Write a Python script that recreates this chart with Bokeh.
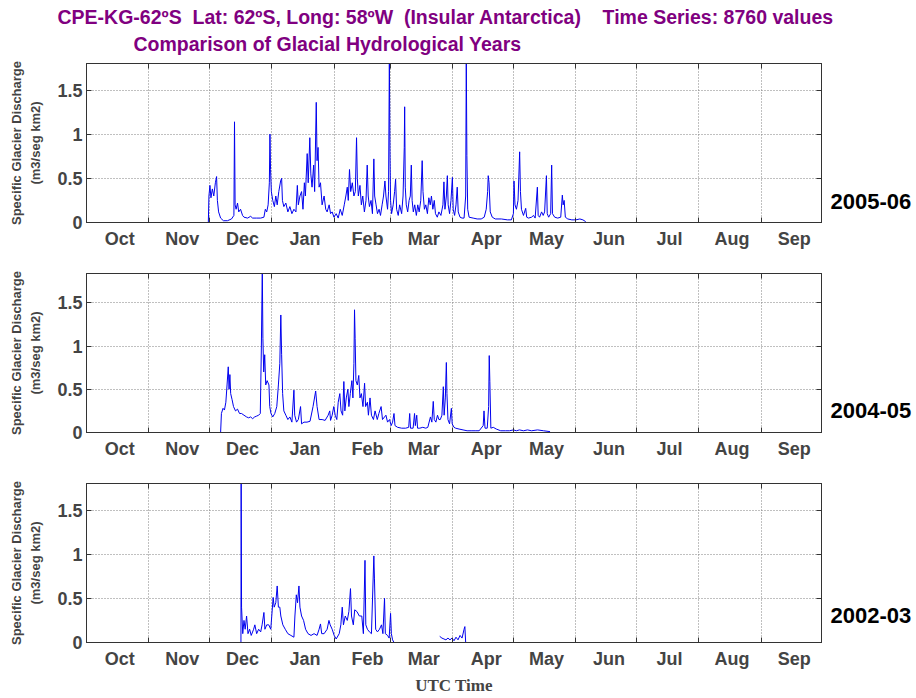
import math
from bokeh.plotting import figure
from bokeh.models import Range1d, FixedTicker, LinearAxis, Title
from bokeh.layouts import column
from bokeh.embed import file_html
from bokeh.resources import INLINE

# ---------------- data ----------------
months = ["Oct", "Nov", "Dec", "Jan", "Feb", "Mar", "Apr", "May", "Jun", "Jul", "Aug", "Sep"]
month_lengths = [31, 30, 31, 31, 28, 31, 30, 31, 30, 31, 31, 30]
y_ticks = [0, 0.5, 1, 1.5]
y_tick_labels = ["0", "0.5", "1", "1.5"]
seasons = ["2005-06", "2004-05", "2002-03"]

# day = days since 1 October of the hydrological year, q = specific discharge (m3/seg km2)
day_0506 = [60.5, 60.8, 61.3, 61.8, 62.5, 63.2, 64.0, 64.6, 65.0, 65.6, 66.6, 68.0, 70.0, 72.0, 73.2, 73.5, 73.8, 74.3,
            75.0, 75.6, 76.5, 77.5, 78.2, 80.0, 81.5, 82.5, 84.5, 86.5, 88.1, 88.8, 89.5, 90.2, 90.8, 91.1, 91.4, 91.8,
            92.5, 93.3, 94.0, 94.7, 95.5, 96.4, 96.9, 97.3, 98.0, 99.0, 100.0, 101.0, 102.0, 103.0, 104.0, 104.7, 105.2,
            106.0, 106.8, 107.5, 108.2, 108.7, 109.6, 110.1, 110.9, 111.4, 112.0, 112.8, 113.3, 114.1, 114.5, 115.0,
            115.5, 116.2, 117.0, 118.0, 118.8, 119.5, 120.5, 121.2, 122.0, 122.9, 124.0, 125.0, 126.0, 127.0, 128.0,
            128.8, 129.5, 130.0, 130.6, 131.2, 132.0, 132.8, 133.5, 134.1, 134.5, 135.0, 135.8, 136.5, 137.2, 138.0,
            138.8, 139.4, 139.9, 140.5, 141.3, 142.0, 142.7, 143.1, 143.8, 144.5, 145.3, 146.0, 146.8, 147.5, 148.2,
            148.7, 149.5, 150.0, 150.4, 150.7, 151.0, 151.5, 152.3, 153.0, 153.5, 154.0, 154.8, 155.5, 156.5, 157.2,
            157.8, 158.0, 158.3, 158.8, 159.5, 160.2, 160.8, 161.3, 161.7, 162.3, 163.0, 163.8, 164.5, 165.2, 166.0,
            166.7, 167.1, 167.8, 168.5, 169.3, 170.0, 170.7, 171.3, 172.0, 172.7, 173.3, 174.2, 175.0, 176.0, 177.0,
            177.5, 178.0, 178.7, 179.2, 179.6, 180.3, 181.0, 181.7, 182.1, 182.8, 183.5, 184.1, 184.6, 185.5, 186.5,
            187.5, 188.3, 188.6, 188.9, 189.3, 190.0, 192.0, 194.0, 196.0, 197.5, 198.5, 199.2, 199.5, 199.9, 200.5,
            201.5, 203.0, 206.0, 209.0, 211.0, 212.0, 212.3, 212.8, 213.5, 214.3, 215.1, 215.5, 216.0, 217.0, 218.1,
            218.6, 219.5, 221.0, 222.0, 222.8, 223.9, 224.3, 225.0, 226.0, 226.8, 227.5, 228.4, 228.8, 229.5, 230.5,
            231.0, 231.4, 232.5, 234.0, 235.5, 236.3, 236.7, 237.2, 237.8, 239.0, 241.0, 243.0, 245.0, 246.5, 247.9]
q_0506 = [0.0, 0.30, 0.42, 0.28, 0.38, 0.30, 0.45, 0.52, 0.25, 0.12, 0.05, 0.02, 0.02, 0.04, 0.08, 1.14, 0.20, 0.15,
          0.22, 0.12, 0.15, 0.08, 0.06, 0.05, 0.07, 0.05, 0.05, 0.05, 0.06, 0.15, 0.12, 0.20, 0.45, 1.00, 0.60, 0.35,
          0.25, 0.18, 0.30, 0.20, 0.35, 0.47, 0.50, 0.25, 0.18, 0.22, 0.12, 0.18, 0.10, 0.15, 0.12, 0.42, 0.20,
          0.30, 0.35, 0.15, 0.45, 0.30, 0.78, 0.45, 0.96, 0.55, 0.40, 0.65, 0.35, 1.36, 0.70, 0.85,
          0.40, 0.45, 0.20, 0.30, 0.15, 0.12, 0.20, 0.10, 0.12, 0.06, 0.10, 0.05, 0.15, 0.08, 0.20,
          0.30, 0.40, 0.25, 0.60, 0.35, 0.45, 0.30, 0.35, 0.96, 0.50, 0.30, 0.42, 0.20, 0.30, 0.12,
          0.25, 0.65, 0.30, 0.18, 0.25, 0.10, 0.72, 0.30, 0.20, 0.10, 0.15, 0.08, 0.20, 0.30, 0.47,
          0.30, 0.15, 0.35, 1.85, 0.80, 0.25, 0.10, 0.20, 0.35, 0.49, 0.15, 0.08, 0.20, 0.10, 0.30,
          0.85, 1.31, 0.40, 0.20, 0.12, 0.25, 0.30, 0.65, 0.25, 0.12, 0.20, 0.08, 0.20, 0.12, 0.25,
          0.70, 0.35, 0.15, 0.20, 0.10, 0.28, 0.20, 0.30, 0.15, 0.25, 0.10, 0.06, 0.12, 0.08, 0.20,
          0.46, 0.15, 0.30, 0.53, 0.20, 0.10, 0.25, 0.51, 0.15, 0.08, 0.20, 0.40, 0.12, 0.06, 0.05,
          0.05, 0.30, 1.85, 0.76, 0.15, 0.06, 0.05, 0.04, 0.04, 0.06, 0.15, 0.35, 0.53, 0.45, 0.12,
          0.06, 0.04, 0.04, 0.03, 0.03, 0.10, 0.47, 0.20, 0.15, 0.25, 0.80, 0.35, 0.15, 0.08, 0.16,
          0.06, 0.05, 0.06, 0.08, 0.05, 0.40, 0.08, 0.06, 0.12, 0.08, 0.12, 0.53, 0.10, 0.06, 0.10,
          0.65, 0.10, 0.06, 0.05, 0.06, 0.31, 0.20, 0.25, 0.06, 0.04, 0.03, 0.03, 0.04, 0.03, 0.01]

day_0405 = [66.6, 67.0, 67.8, 68.5, 69.2, 69.8, 70.4, 70.8, 71.2, 71.6, 72.3, 73.0, 74.0, 75.0, 76.0, 77.0, 78.2, 79.5,
            80.5, 81.5, 82.5, 83.5, 84.5, 85.5, 86.3, 86.8, 87.3, 87.6, 88.0, 88.5, 89.0, 89.7, 90.6, 91.0, 91.6, 92.5,
            93.5, 94.5, 95.3, 96.0, 96.5, 96.9, 97.4, 98.0, 99.0, 100.0, 101.0, 102.0, 103.0, 103.4, 104.3, 105.2,
            106.3, 106.8, 108.0, 109.5, 111.0, 112.5, 113.8, 114.5, 115.5, 117.0, 118.5, 120.0, 120.8, 121.2, 122.0,
            122.8, 123.5, 124.3, 125.0, 125.8, 126.4, 127.2, 127.8, 128.3, 129.0, 129.8, 130.3, 131.0, 131.8, 132.3,
            132.8, 133.1, 133.4, 133.8, 134.5, 135.2, 135.8, 136.5, 137.3, 138.1, 138.6, 139.5, 140.0, 140.8, 141.5,
            142.5, 143.3, 144.4, 145.2, 146.3, 147.0, 148.0, 148.7, 149.5, 150.5, 151.3, 152.0, 152.7, 153.2, 154.5,
            156.5, 158.5, 160.0, 160.5, 160.9, 162.2, 162.9, 163.3, 164.0, 164.4, 165.5, 167.0, 168.5, 169.5, 170.8,
            171.5, 172.2, 172.7, 173.5, 174.3, 175.0, 175.7, 176.5, 177.2, 177.6, 178.2, 178.7, 179.0, 179.5, 180.3,
            181.2, 181.6, 182.5, 183.3, 185.0, 187.0, 189.0, 191.0, 193.0, 195.0, 197.0, 197.4, 197.9, 199.0, 199.7,
            200.0, 200.3, 200.8, 202.0, 203.5, 205.7, 208.0, 210.0, 212.0, 213.5, 215.0, 217.0, 219.0, 221.0, 224.0,
            227.0, 230.2]
q_0405 = [0.0, 0.22, 0.28, 0.26, 0.35, 0.55, 0.76, 0.50, 0.67, 0.45, 0.38, 0.30, 0.25, 0.27, 0.22, 0.22, 0.20, 0.18,
          0.17, 0.18, 0.16, 0.18, 0.19, 0.20, 0.22, 0.92, 1.90, 1.09, 0.70, 0.90, 0.55, 0.60, 0.55, 0.30, 0.22, 0.18,
          0.22, 0.30, 0.55, 0.80, 1.36, 0.90, 0.45, 0.25, 0.20, 0.15, 0.18, 0.12, 0.49, 0.20, 0.12, 0.15,
          0.30, 0.10, 0.12, 0.12, 0.13, 0.30, 0.48, 0.30, 0.15, 0.15, 0.14, 0.20, 0.25, 0.14, 0.20,
          0.30, 0.20, 0.15, 0.35, 0.45, 0.25, 0.20, 0.59, 0.25, 0.40, 0.50, 0.30, 0.45, 0.60, 0.40,
          0.80, 1.42, 1.09, 0.60, 0.55, 0.66, 0.40, 0.45, 0.30, 0.57, 0.30, 0.35, 0.20, 0.40, 0.20,
          0.15, 0.25, 0.15, 0.22, 0.30, 0.15, 0.18, 0.20, 0.12, 0.15, 0.08, 0.12, 0.22, 0.08, 0.06,
          0.05, 0.05, 0.06, 0.22, 0.05, 0.05, 0.22, 0.08, 0.20, 0.05, 0.05, 0.06, 0.05, 0.06, 0.18,
          0.12, 0.36, 0.15, 0.12, 0.20, 0.15, 0.15, 0.20, 0.53, 0.20, 0.40, 0.81, 0.45, 0.15, 0.10,
          0.28, 0.10, 0.06, 0.05, 0.04, 0.03, 0.02, 0.02, 0.02, 0.02, 0.08, 0.25, 0.05, 0.05, 0.30,
          0.89, 0.59, 0.05, 0.06, 0.04, 0.02, 0.02, 0.02, 0.03, 0.02, 0.03, 0.02, 0.03, 0.02, 0.03,
          0.02, 0.01]

day_0203 = [76.7, 76.8, 77.0, 77.6, 78.2, 78.8, 79.5, 80.2, 81.0, 81.8, 83.0, 83.6, 84.5, 85.5, 86.5, 87.2, 88.1, 88.6,
            89.5, 90.5, 91.5, 92.0, 92.7, 93.2, 94.0, 94.7, 95.3, 96.0, 96.5, 97.5, 98.7, 100.0, 101.5, 103.0, 103.5,
            104.2, 104.8, 105.5, 106.0, 106.8, 107.8, 108.8, 110.0, 111.5, 113.0, 114.5, 115.5, 116.2, 116.8, 118.0,
            119.5, 120.4, 121.0, 122.0, 123.0, 124.0, 125.5, 126.3, 127.0, 127.6, 128.5, 129.5, 130.3, 131.1, 131.6,
            132.5, 133.2, 134.3, 135.5, 136.7, 137.5, 138.3, 138.7, 139.5, 140.5, 141.5, 142.7, 143.0, 143.6, 144.5,
            145.5, 146.5, 147.2, 148.0, 148.4, 149.5, 150.3, 151.0, 151.4, 152.0, 152.7, 164.0,
            175.4, 176.5, 177.5, 178.5, 179.5, 180.5, 181.5, 182.5, 183.5, 184.5, 185.5, 186.5, 187.5, 187.9, 188.3]
q_0203 = [0.0, 1.90, 0.40, 0.10, 0.25, 0.15, 0.30, 0.10, 0.15, 0.08, 0.15, 0.20, 0.10, 0.15, 0.12, 0.20, 0.34, 0.15,
          0.20, 0.20, 0.15, 0.30, 0.51, 0.40, 0.45, 0.64, 0.40, 0.40, 0.30, 0.20, 0.15, 0.10, 0.08, 0.06, 0.30,
          0.54, 0.45, 0.64, 0.40, 0.30, 0.25, 0.15, 0.10, 0.08, 0.10, 0.08, 0.15, 0.21, 0.10, 0.10,
          0.15, 0.25, 0.20, 0.15, 0.08, 0.04, 0.10, 0.20, 0.40, 0.20, 0.30, 0.25, 0.35, 0.61, 0.30,
          0.20, 0.37, 0.35, 0.30, 0.30, 0.10, 0.93, 0.20, 0.15, 0.12, 0.10, 0.98, 0.72, 0.15, 0.12,
          0.15, 0.20, 0.10, 0.50, 0.10, 0.08, 0.05, 0.33, 0.10, 0.03, 0.0, float("nan"),
          0.07, 0.05, 0.04, 0.03, 0.05, 0.03, 0.05, 0.02, 0.06, 0.03, 0.08, 0.05, 0.15, 0.18, 0.0]

title_line1 = "CPE-KG-62ºS\u00a0 Lat: 62ºS, Long: 58ºW\u00a0 (Insular Antarctica)\u00a0\u00a0\u00a0 Time Series: 8760 values"
title_line2 = "Comparison of Glacial Hydrological Years"
y_label_1 = "Specific Glacier Discharge"
y_label_2 = "(m3/seg km2)"
x_label = "UTC Time"

# ---------------- styling ----------------
FONT = "Liberation Sans"
AXIS_COLOR = "#333333"
LINE_COLOR = "#0000ee"
TITLE_COLOR = "#800080"

bounds = [0]
for n in month_lengths:
    bounds.append(bounds[-1] + n)
mids = [b + 16.5 for b in bounds[:-1]]


def hidden_labels(axis):
    axis.major_label_text_color = None
    axis.major_label_text_font_size = "1px"
    axis.major_label_standoff = 0
    axis.axis_label_standoff = 0


def make_panel(days, q, season, ymax, height, top, bottom, season_y):
    p = figure(width=916, height=height, output_backend="svg", toolbar_location=None,
               x_range=Range1d(0, 365), y_range=Range1d(0, ymax),
               min_border_left=86, min_border_right=95,
               min_border_top=top, min_border_bottom=bottom)
    p.outline_line_color = AXIS_COLOR
    p.background_fill_color = "white"
    p.border_fill_color = "white"

    # bottom x axis: month names centred, tick marks at month boundaries
    xa = p.below[0]
    xa.ticker = FixedTicker(ticks=mids, minor_ticks=bounds)
    xa.major_label_overrides = {m: name for m, name in zip(mids, months)}
    xa.major_tick_line_color = None
    xa.minor_tick_in = 5
    xa.minor_tick_out = 0
    xa.minor_tick_line_color = AXIS_COLOR
    xa.axis_line_color = AXIS_COLOR
    xa.major_label_standoff = 0
    xa.axis_label_standoff = 0
    xa.major_label_text_font = FONT
    xa.major_label_text_font_style = "bold"
    xa.major_label_text_font_size = "18px"

    # left y axis (inner label line)
    ya = p.left[0]
    ya.ticker = FixedTicker(ticks=y_ticks)
    ya.major_label_overrides = {t: s for t, s in zip(y_ticks, y_tick_labels)}
    ya.major_tick_in = 5
    ya.major_tick_out = 0
    ya.major_tick_line_color = AXIS_COLOR
    ya.minor_tick_line_color = None
    ya.axis_line_color = AXIS_COLOR
    ya.major_label_standoff = 4
    ya.major_label_text_font = FONT
    ya.major_label_text_font_style = "bold"
    ya.major_label_text_font_size = "18px"
    ya.axis_label = y_label_2
    ya.axis_label_text_font = FONT
    ya.axis_label_text_font_style = "bold"
    ya.axis_label_text_font_size = "13px"
    ya.axis_label_standoff = 11

    # outer left axis carrying the first label line
    la = LinearAxis(ticker=FixedTicker(ticks=[]), axis_line_color=None,
                    major_tick_line_color=None, minor_tick_line_color=None,
                    axis_label=y_label_1, axis_label_text_font=FONT,
                    axis_label_text_font_style="bold", axis_label_text_font_size="13px")
    hidden_labels(la)
    la.axis_label_standoff = 2
    p.add_layout(la, "left")

    # box ticks on the right and on top
    ra = LinearAxis(ticker=FixedTicker(ticks=y_ticks), major_tick_in=5, major_tick_out=0,
                    major_tick_line_color=AXIS_COLOR, minor_tick_line_color=None,
                    axis_line_color=AXIS_COLOR)
    hidden_labels(ra)
    p.add_layout(ra, "right")
    ta = LinearAxis(ticker=FixedTicker(ticks=mids, minor_ticks=bounds),
                    major_tick_line_color=None, minor_tick_in=5, minor_tick_out=0,
                    minor_tick_line_color=AXIS_COLOR, axis_line_color=AXIS_COLOR)
    hidden_labels(ta)
    p.add_layout(ta, "above")

    # season name on the right, as the single label of an extra right axis
    sa = LinearAxis(ticker=FixedTicker(ticks=[season_y]), axis_line_color=None,
                    major_tick_line_color=None, minor_tick_line_color=None,
                    major_label_overrides={season_y: season}, major_label_standoff=3,
                    major_label_text_font=FONT, major_label_text_font_style="bold",
                    major_label_text_font_size="22px", major_label_text_color="black",
                    axis_label_standoff=0)
    p.add_layout(sa, "right")

    p.xgrid.ticker = FixedTicker(ticks=bounds[1:-1])
    p.ygrid.ticker = FixedTicker(ticks=[t for t in y_ticks if t > 0])
    for g in (p.xgrid[0], p.ygrid[0]):
        g.grid_line_color = "#808080"
        g.grid_line_dash = "1 2"
        g.grid_line_width = 1

    p.line(days, q, line_color=LINE_COLOR, line_width=1)
    return p


p1 = make_panel(day_0506, q_0506, seasons[0], 1.8, 254, 63, 32, 0.24)
p2 = make_panel(day_0405, q_0405, seasons[1], 1.84, 210, 19, 32, 0.25)
p3 = make_panel(day_0203, q_0203, seasons[2], 1.8, 234, 19, 56, 0.31)

# titles stacked above panel 1 (first added sits closest to the frame)
p1.add_layout(Title(text=title_line2, align="left", offset=47, standoff=5,
                    text_font=FONT, text_font_style="bold", text_font_size="19.5px",
                    text_color=TITLE_COLOR), "above")
p1.add_layout(Title(text=title_line1, align="left", offset=-29, standoff=1,
                    text_font=FONT, text_font_style="bold", text_font_size="19.5px",
                    text_color=TITLE_COLOR), "above")

# x axis title under the last panel
xa3 = p3.below[0]
xa3.axis_label = x_label
xa3.axis_label_text_font = "Liberation Serif"
xa3.axis_label_text_font_style = "bold"
xa3.axis_label_text_font_size = "17px"
xa3.axis_label_standoff = 4

layout = column(p1, p2, p3, spacing=0)
open("out.html", "w").write(file_html(layout, INLINE))
